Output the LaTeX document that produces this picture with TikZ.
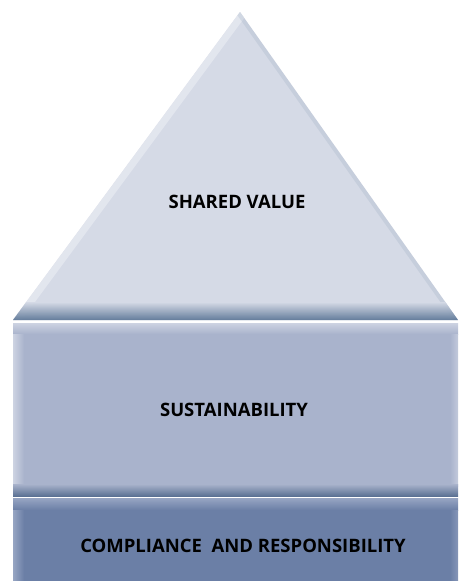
\documentclass[tikz,border=0pt]{standalone}
\usepackage{fontspec}
\setmainfont{Open Sans}
\definecolor{triFill}{HTML}{D5DAE6}
\definecolor{triLight}{HTML}{E6E9F1}
\definecolor{bevelDark}{HTML}{5E7898}
\definecolor{midFill}{HTML}{A9B3CC}
\definecolor{midLight}{HTML}{CDD3E2}
\definecolor{midDark}{HTML}{5C7294}
\definecolor{botFill}{HTML}{6B7FA6}
\definecolor{botLight}{HTML}{97A5C3}
\tikzset{
  label/.style={font=\bfseries\fontsize{18.5}{22}\selectfont, text=black, inner sep=0pt},
}
\begin{document}
\begin{tikzpicture}[x=1pt,y=-1pt]
\useasboundingbox (0,0) rectangle (458,581);
\fill[white] (0,0) rectangle (458,581);
% coordinates
\coordinate (apex) at (240,12);
\coordinate (bl) at (13,320);
\coordinate (br) at (458,320);
% triangle
\fill[triFill] (apex) -- (bl) -- (br) -- cycle;
\begin{scope}
  \clip (apex) -- (bl) -- (br) -- cycle;
  \draw[triLight, line width=14pt, opacity=0.8] (bl) -- (apex);
  \draw[bevelDark, line width=8pt, opacity=0.12] (apex) -- (br);
  \shade[top color=triFill, bottom color=bevelDark, opacity=0.95] (0,302) rectangle (458,320);
\end{scope}
% middle layer
\fill[midFill] (13,323) rectangle (458,496);
\shade[top color=midLight, bottom color=midFill] (13,323) rectangle (458,334);
\shade[left color=midLight, right color=midFill] (13,334) rectangle (24,486);
\shade[left color=midFill, right color=midLight!70!midFill] (450,334) rectangle (458,486);
\shade[top color=midFill, bottom color=midDark] (13,484) rectangle (458,496);
% bottom layer
\fill[botFill] (13,498) rectangle (458,581);
\shade[top color=botLight, bottom color=botFill] (13,498) rectangle (458,510);
\shade[left color=botLight, right color=botFill] (13,510) rectangle (24,581);
\shade[left color=botFill, right color=botLight!60!botFill] (450,510) rectangle (458,581);
% labels
\node[label] (shared) at (237,202) {SHARED VALUE};
\node[label] (sust) at (234,410) {SUSTAINABILITY};
\node[label] (comp) at (243,546) {COMPLIANCE\ \ AND RESPONSIBILITY};
\end{tikzpicture}
\end{document}
